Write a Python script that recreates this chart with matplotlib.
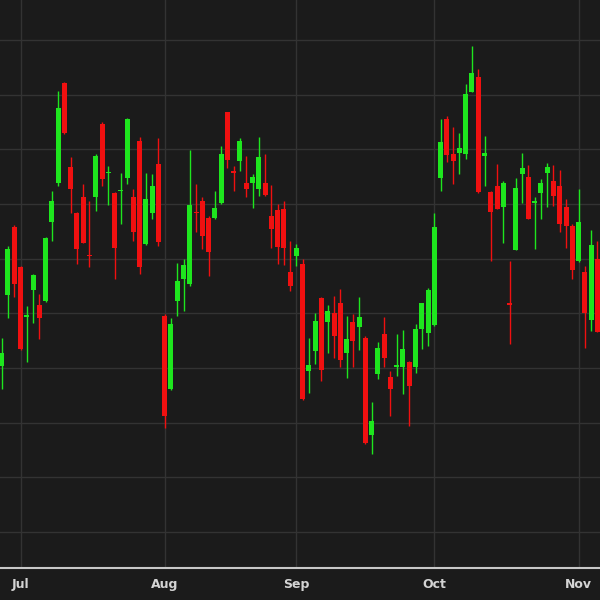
import matplotlib
matplotlib.use("Agg")
import matplotlib.pyplot as plt
import numpy as np

# OHLC values (one candle per trading day)
opens = [110.4, 123.3, 135.7, 128.4, 119.4, 124.3, 121.6, 122.3, 136.7, 143.9,
         162.2, 146.8, 138.3, 141.2, 130.6, 141.3, 154.6, 145.6, 142.0, 142.3,
         144.8, 141.2, 151.5, 132.6, 138.4, 147.3, 119.5, 106.1, 122.3, 126.2,
         125.3, 138.5, 140.5, 137.5, 137.5, 140.2, 156.8, 146.0, 147.9, 143.9,
         143.9, 142.7, 143.8, 137.8, 138.9, 139.1, 127.6, 130.5, 129.0, 109.5,
         113.1, 122.7, 118.4, 120.1, 121.8, 112.7, 118.4, 117.4, 115.5, 97.7,
         108.8, 116.2, 108.4, 110.2, 110.1, 111.1, 110.1, 117.2, 116.3, 117.8,
         144.8, 155.6, 149.1, 149.4, 149.1, 160.5, 163.3, 148.7, 142.1, 143.3,
         139.5, 121.8, 131.6, 145.4, 145.0, 140.2, 142.0, 145.6, 144.2, 143.3,
         139.5, 136.0, 129.6, 127.6, 118.8, 129.9]
highs = [115.5, 132.3, 136.1, 128.7, 121.3, 127.1, 123.5, 134.0, 142.4, 160.7,
         162.3, 148.5, 138.5, 143.6, 140.5, 149.1, 155.0, 147.0, 142.1, 145.7,
         155.8, 142.8, 152.3, 145.7, 145.4, 152.0, 119.8, 119.2, 129.1, 129.9,
         149.9, 143.6, 141.2, 137.8, 142.4, 150.6, 156.9, 147.0, 152.1, 148.8,
         145.4, 152.3, 149.1, 143.4, 139.9, 140.5, 133.2, 132.6, 129.9, 115.5,
         120.1, 122.9, 121.6, 123.2, 124.5, 119.5, 119.8, 122.9, 115.9, 103.8,
         114.8, 119.4, 109.5, 116.2, 117.0, 111.3, 118.0, 121.9, 124.7, 138.3,
         155.5, 156.1, 154.1, 152.9, 161.9, 168.8, 164.6, 152.4, 142.4, 147.3,
         144.2, 129.6, 144.8, 149.3, 147.1, 141.3, 144.6, 147.4, 147.1, 146.2,
         140.9, 136.3, 142.7, 128.7, 135.2, 133.2]
lows = [106.1, 119.2, 122.9, 113.3, 111.0, 118.3, 115.2, 122.0, 133.2, 143.3,
        152.8, 138.4, 129.0, 132.8, 128.5, 138.7, 143.3, 139.8, 126.2, 136.3,
        143.6, 133.2, 127.1, 132.5, 137.2, 132.3, 99.1, 106.0, 119.5, 120.4,
        125.0, 134.8, 131.7, 126.8, 137.2, 139.9, 146.6, 142.4, 146.0, 141.2,
        139.3, 141.5, 141.5, 132.0, 129.0, 128.8, 124.1, 128.7, 104.2, 105.5,
        110.7, 107.6, 112.8, 111.9, 110.1, 108.2, 110.1, 113.3, 96.0, 94.2,
        107.9, 110.1, 101.2, 108.5, 105.2, 99.4, 109.1, 113.4, 114.0, 117.7,
        142.4, 147.6, 143.6, 145.4, 148.3, 160.4, 142.0, 143.3, 129.6, 139.0,
        132.8, 114.3, 131.5, 140.1, 137.2, 131.8, 137.3, 139.5, 139.6, 134.8,
        132.0, 126.3, 129.4, 113.7, 116.8, 116.5]
closes = [112.8, 131.8, 125.3, 113.5, 119.6, 127.0, 119.2, 133.8, 140.5, 157.6,
          152.9, 142.7, 131.8, 132.9, 130.4, 148.8, 144.5, 145.8, 132.0, 142.5,
          155.5, 134.9, 128.4, 140.9, 143.3, 133.0, 101.2, 118.0, 125.9, 128.8,
          139.8, 138.3, 134.1, 131.2, 139.3, 149.1, 148.0, 145.7, 151.5, 142.7,
          145.0, 148.5, 141.6, 135.5, 132.2, 132.0, 125.0, 132.0, 104.3, 110.5,
          118.6, 109.6, 120.4, 115.9, 111.5, 115.2, 114.9, 119.4, 96.2, 100.3,
          113.7, 111.9, 106.2, 110.6, 113.4, 106.7, 117.2, 121.8, 124.3, 135.7,
          151.3, 148.9, 147.9, 150.3, 160.1, 163.9, 142.1, 149.4, 138.5, 139.1,
          143.8, 121.5, 143.0, 146.6, 137.3, 140.5, 143.9, 146.8, 141.5, 136.3,
          136.0, 127.9, 136.7, 120.0, 132.4, 116.6]

# month labels and the candle index where each month starts
month_labels = ["Jul", "Aug", "Sep", "Oct", "Nov"]
month_starts = [3, 26, 47, 69, 92]

BG = "#1b1b1b"
GRID = "#333333"
UP = "#1ee61e"
DOWN = "#f01010"

o = np.array(opens); h = np.array(highs); l = np.array(lows); c = np.array(closes)
x = np.arange(len(o))
colors = [UP if cc >= oo else DOWN for oo, cc in zip(o, c)]

fig = plt.figure(figsize=(6, 6), dpi=100, facecolor=BG)
ax = fig.add_axes([0, 32 / 600, 1, 568 / 600])
ax.set_facecolor(BG)

ax.set_axisbelow(True)
ax.grid(True, color=GRID, linewidth=1.0)

ax.vlines(x, l, h, colors=colors, linewidth=1.0, zorder=2)
body_bottom = np.minimum(o, c)
body_height = np.maximum(np.abs(c - o), 0.25)
ax.bar(x, body_height, bottom=body_bottom, width=0.8, color=colors,
       linewidth=0, zorder=3)

ax.set_xlim(-0.27, 95.42)
ax.set_ylim(73.4, 177.3)
ax.set_yticks(np.arange(80, 171, 10))
ax.set_yticklabels([])
ax.set_xticks(month_starts)
ax.set_xticklabels(month_labels, fontsize=9, fontweight="bold", color="#d4d4d4")
ax.tick_params(axis="both", length=0)
ax.tick_params(axis="x", pad=7)
ax.tick_params(axis="y", left=False, labelleft=False)

for side in ["top", "left", "right"]:
    ax.spines[side].set_visible(False)
ax.spines["bottom"].set_color("#c8c8c8")
ax.spines["bottom"].set_linewidth(1.5)

fig.savefig("out.png", dpi=100, facecolor=BG)
